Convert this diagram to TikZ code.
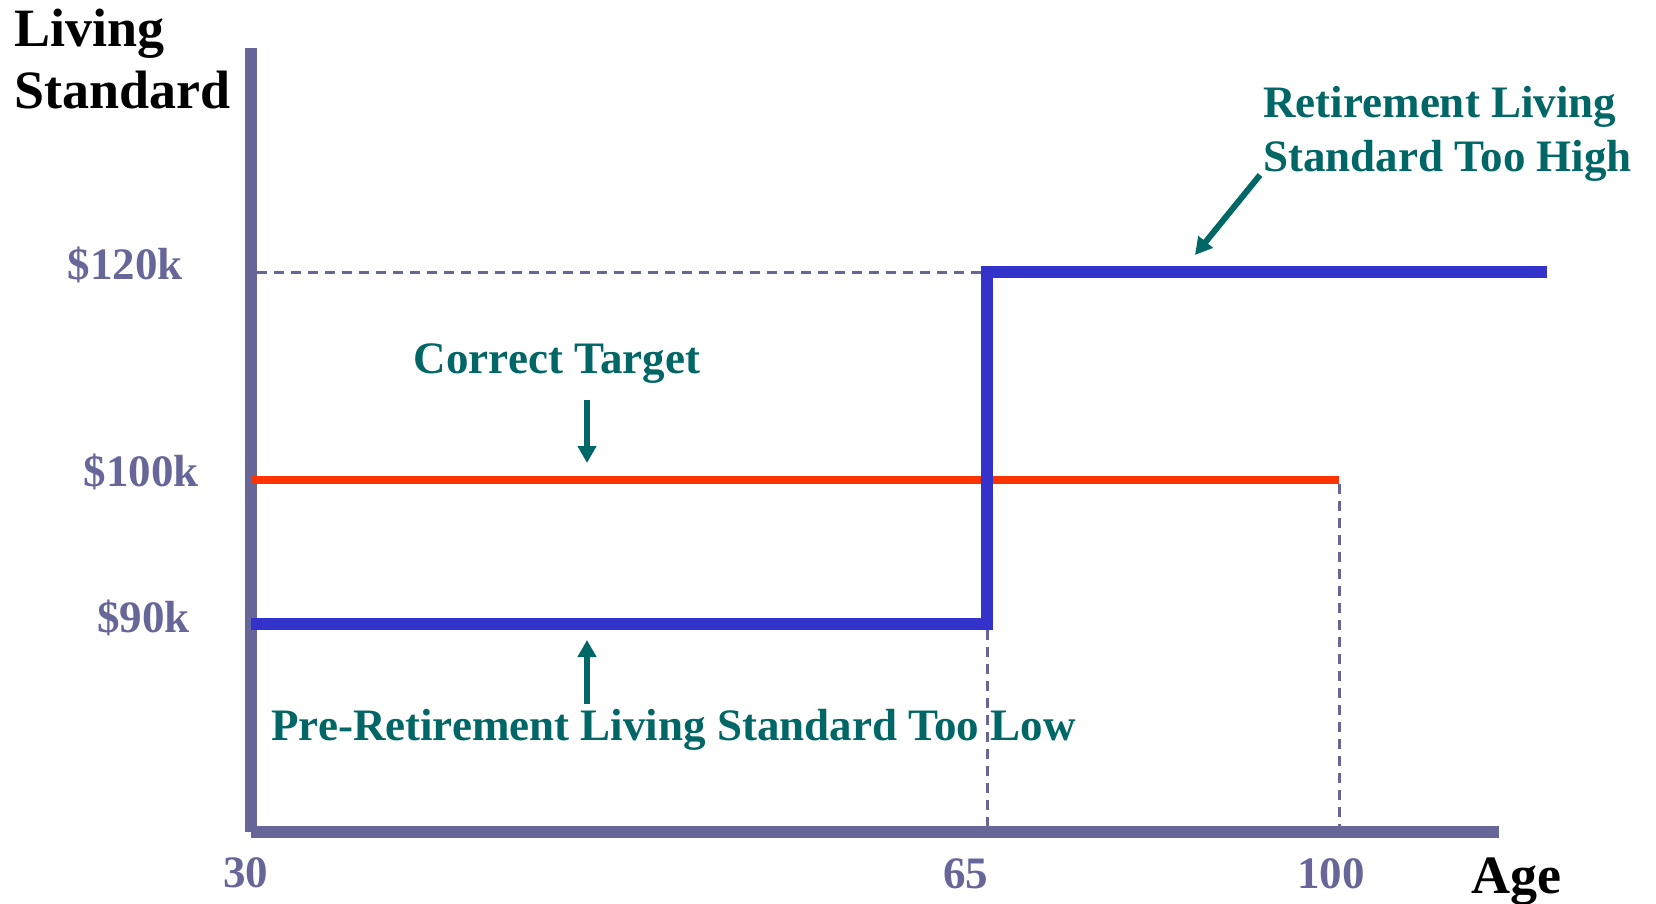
\documentclass[tikz,border=0pt]{standalone}
\usepackage{fontspec}
\setmainfont{Liberation Serif}
\usetikzlibrary{arrows.meta,positioning}

\definecolor{axisgray}{HTML}{666699}
\definecolor{stepblue}{HTML}{3333CC}
\definecolor{targetred}{HTML}{FF3300}
\definecolor{noteteal}{HTML}{006666}

\begin{document}
\begin{tikzpicture}[
    x=0.5pt,y=-0.5pt,
    axisline/.style={axisgray,line width=6pt},
    guide/.style={axisgray,line width=1.5pt,dash pattern=on 5pt off 3.5pt},
    tick/.style={axisgray,font=\fontsize{22.5}{27}\selectfont\bfseries,inner sep=0pt},
    title/.style={black,font=\fontsize{27}{31}\selectfont\bfseries,inner sep=0pt,align=left},
    note/.style={noteteal,font=\fontsize{22.5}{27.5}\selectfont\bfseries,inner sep=0pt,align=left},
    pointer/.style={noteteal,line width=3pt,-{Triangle[width=9pt,length=8.5pt]}}
]
    \useasboundingbox (0,0) rectangle (1656,904);

    % axes
    \coordinate (origin) at (251,832);
    \coordinate (ytop) at (251,48);
    \coordinate (xend) at (1499,832);
    \draw[axisline] (ytop) -- (origin);
    \draw[axisline] (origin) -- (xend);

    % guide lines
    \draw[guide] (257,272) -- (987,272);
    \draw[guide] (987,630) -- (987,826);
    \draw[guide] (1339,484) -- (1339,826);

    % living standards
    \draw[targetred,line width=4pt] (251,480) -- (1339,480);
    \draw[stepblue,line width=6pt,miter limit=10] (251,624) -- (987,624) -- (987,272) -- (1547,272);

    % axis labels (base = last line)
    \node[title,anchor=base west] (ylabel) at (14,109) {Living\\Standard};
    \node[title,anchor=base west] (xlabel) at (1471,893) {Age};
    \node[tick,anchor=base east] (y120) at (183,279) {\$120k};
    \node[tick,anchor=base east] (y100) at (199,486) {\$100k};
    \node[tick,anchor=base east] (y90) at (190,632) {\$90k};
    \node[tick,anchor=base west] (x30) at (223,887) {30};
    \node[tick,anchor=base west] (x65) at (943,888) {65};
    \node[tick,anchor=base west] (x100) at (1297,888) {100};

    % notes
    \node[note,anchor=base] (correct) at (557,373) {Correct Target};
    \node[note,anchor=base west] (toohigh) at (1263,172) {Retirement Living\\Standard Too High};
    \node[note,anchor=base west] (toolow) at (271,740) {Pre-Retirement Living Standard Too Low};

    \coordinate (correcttail) at (587,400);
    \coordinate (correcttip) at (587,463);
    \coordinate (hightail) at (1260,175);
    \coordinate (hightip) at (1195,255);
    \coordinate (lowtail) at (587,704);
    \coordinate (lowtip) at (587,640);
    \draw[pointer] (correcttail) -- (correcttip);
    \draw[pointer] (hightail) -- (hightip);
    \draw[pointer] (lowtail) -- (lowtip);
\end{tikzpicture}
\end{document}
